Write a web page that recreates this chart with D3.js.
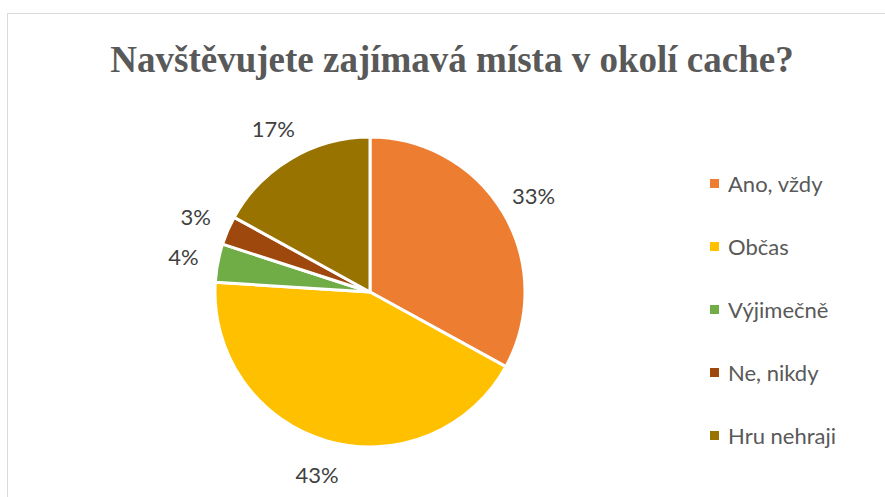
<!DOCTYPE html>
<html>
<head>
<meta charset="utf-8">
<script src="https://cdn.jsdelivr.net/npm/d3@7/dist/d3.min.js"></script>
<style>
  body { margin: 0; background: #fff; }
  svg { display: block; }
</style>
</head>
<body>
<div id="chart"></div>
<script>
const categories = ['Ano, vždy', 'Občas', 'Výjimečně', 'Ne, nikdy', 'Hru nehraji']
const values = [33, 43, 4, 3, 17]
const colors = ['#ED7D31', '#FFC000', '#70AD47', '#9E480E', '#997300']
const title = 'Navštěvujete zajímavá místa v okolí cache?'

const width = 885
const height = 497
const cx = 370
const cy = 292
const radius = 155
const labelRadius = 190

const svg = d3.select('#chart').append('svg')
  .attr('width', width)
  .attr('height', height)

// chart area border
svg.append('rect')
  .attr('x', 7.5).attr('y', 13.5)
  .attr('width', width).attr('height', height)
  .attr('fill', 'none')
  .attr('stroke', '#d9d9d9')

svg.append('text')
  .attr('x', 452).attr('y', 72)
  .attr('text-anchor', 'middle')
  .attr('font-family', '"Liberation Serif", "Times New Roman", serif')
  .attr('font-weight', 'bold')
  .attr('font-size', 37)
  .attr('fill', '#595959')
  .text(title)

const data = categories.map((c, i) => ({ name: c, value: values[i], color: colors[i] }))

const pie = d3.pie().sort(null).value(d => d.value)
const arc = d3.arc().innerRadius(0).outerRadius(radius)
const labelArc = d3.arc().innerRadius(labelRadius).outerRadius(labelRadius)

const g = svg.append('g').attr('transform', 'translate(' + cx + ',' + cy + ')')
const total = d3.sum(values)

g.selectAll('path')
  .data(pie(data))
  .enter().append('path')
  .attr('d', arc)
  .attr('fill', d => d.data.color)
  .attr('stroke', '#fff')
  .attr('stroke-width', 3)
  .attr('stroke-linejoin', 'round')

g.selectAll('text.lbl')
  .data(pie(data))
  .enter().append('text')
  .attr('class', 'lbl')
  .attr('transform', d => 'translate(' + labelArc.centroid(d) + ')')
  .attr('text-anchor', 'middle')
  .attr('dominant-baseline', 'central')
  .attr('font-family', 'Lato, "Open Sans", sans-serif')
  .attr('font-size', 22)
  .attr('fill', '#404040')
  .text(d => Math.round(d.data.value / total * 100) + '%')

// legend
const legendY = d3.scalePoint().domain(categories).range([183, 435])

const lg = svg.append('g').selectAll('g')
  .data(data)
  .enter().append('g')
  .attr('transform', d => 'translate(710,' + legendY(d.name) + ')')

lg.append('rect')
  .attr('x', 0).attr('y', -4)
  .attr('width', 9).attr('height', 9)
  .attr('fill', d => d.color)

lg.append('text')
  .attr('x', 18)
  .attr('dominant-baseline', 'central')
  .attr('font-family', 'Lato, "Open Sans", sans-serif')
  .attr('font-size', 22)
  .attr('fill', '#595959')
  .text(d => d.name)
</script>
</body>
</html>
